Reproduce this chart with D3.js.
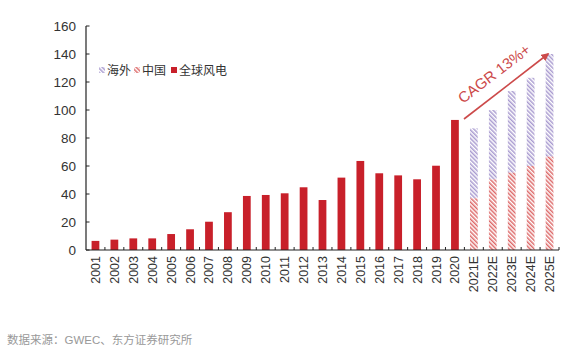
<!DOCTYPE html>
<html>
<head>
<meta charset="utf-8">
<script src="https://cdn.jsdelivr.net/npm/d3@7"></script>
<style>
  body { margin: 0; background: #fff; }
  text { font-family: "Liberation Sans", Arial, "Noto Sans CJK SC", sans-serif; }
</style>
</head>
<body>
<div class="chart"></div>
<script>
var width = 564,
    height = 353;

// data
var years = ['2001', '2002', '2003', '2004', '2005', '2006', '2007', '2008', '2009', '2010',
    '2011', '2012', '2013', '2014', '2015', '2016', '2017', '2018', '2019', '2020',
    '2021E', '2022E', '2023E', '2024E', '2025E'];
var globalWind = [6.5, 7.4, 8.3, 8.3, 11.4, 14.8, 20.2, 27, 38.6, 39.3,
    40.5, 44.8, 35.7, 51.7, 63.6, 54.8, 53.3, 50.5, 60.2, 92.9];
var chinaVal = [36.9, 50.4, 55.2, 60, 66.7];
var totalVal = [86.9, 100, 113.6, 123, 140];
var yTicks = [0, 20, 40, 60, 80, 100, 120, 140, 160];
var legendNames = ['海外', '中国', '全球风电'];

var red = '#c8202a';

var svg = d3.select(".chart").append("svg")
    .attr("width", width)
    .attr("height", height);

var defs = svg.append("defs");
function stripes(id, color) {
    var p = defs.append("pattern")
        .attr("id", id)
        .attr("patternUnits", "userSpaceOnUse")
        .attr("width", 3)
        .attr("height", 3)
        .attr("patternTransform", "rotate(-45)");
    p.append("rect").attr("width", 3).attr("height", 3).attr("fill", "#fff");
    p.append("rect").attr("width", 1.5).attr("height", 3).attr("fill", color);
}
stripes("overseas", "#a99bd0");
stripes("china", "#dd6a6a");

var x = d3.scaleBand()
    .domain(years)
    .range([86, 559]);
var y = d3.scaleLinear()
    .domain([0, 160])
    .range([250, 26]);

var barW = x.bandwidth() * 0.41;
function bx(d) { return x(d) + (x.bandwidth() - barW) / 2; }

// historical bars
svg.selectAll(".hist")
    .data(globalWind)
    .enter()
    .append("rect")
    .attr("x", function (d, i) { return bx(years[i]); })
    .attr("y", function (d) { return y(d); })
    .attr("width", barW)
    .attr("height", function (d) { return y(0) - y(d); })
    .attr("fill", red);

var fc = years.slice(20);
// forecast: overseas part on top
svg.selectAll(".over")
    .data(totalVal)
    .enter()
    .append("rect")
    .attr("x", function (d, i) { return bx(fc[i]); })
    .attr("y", function (d) { return y(d); })
    .attr("width", barW)
    .attr("height", function (d, i) { return y(chinaVal[i]) - y(d); })
    .attr("fill", "url(#overseas)");
svg.selectAll(".cn")
    .data(chinaVal)
    .enter()
    .append("rect")
    .attr("x", function (d, i) { return bx(fc[i]); })
    .attr("y", function (d) { return y(d); })
    .attr("width", barW)
    .attr("height", function (d) { return y(0) - y(d); })
    .attr("fill", "url(#china)");

// y axis
svg.append("line")
    .attr("x1", 86).attr("x2", 86)
    .attr("y1", y(160)).attr("y2", y(0))
    .attr("stroke", "#222").attr("stroke-width", 1.2);
svg.selectAll(".ytick")
    .data(yTicks)
    .enter()
    .append("line")
    .attr("x1", 86).attr("x2", 89.5)
    .attr("y1", function (d) { return y(d); })
    .attr("y2", function (d) { return y(d); })
    .attr("stroke", "#222");
svg.selectAll(".ylab")
    .data(yTicks)
    .enter()
    .append("text")
    .attr("x", 76)
    .attr("y", function (d) { return y(d) + 5; })
    .attr("text-anchor", "end")
    .attr("font-size", 13.5)
    .attr("fill", "#333")
    .text(function (d) { return d; });

// x axis
svg.append("line")
    .attr("x1", 86).attr("x2", 559)
    .attr("y1", y(0)).attr("y2", y(0))
    .attr("stroke", "#222").attr("stroke-width", 1.2);
svg.selectAll(".xtick")
    .data(years)
    .enter()
    .append("line")
    .attr("x1", function (d) { return x(d) + x.bandwidth(); })
    .attr("x2", function (d) { return x(d) + x.bandwidth(); })
    .attr("y1", y(0)).attr("y2", y(0) - 3)
    .attr("stroke", "#222");
svg.selectAll(".xlab")
    .data(years)
    .enter()
    .append("text")
    .attr("transform", function (d) {
        return "translate(" + (x(d) + x.bandwidth() / 2 + 4.5) + ",256) rotate(-90)";
    })
    .attr("text-anchor", "end")
    .attr("font-size", 12.5)
    .attr("fill", "#333")
    .text(function (d) { return d; });

// legend
var lg = svg.append("g").attr("class", "legend");
var lx = [99, 134, 171];
var fills = ["url(#overseas)", "url(#china)", red];
legendNames.forEach(function (n, i) {
    lg.append("rect")
        .attr("x", lx[i]).attr("y", 67)
        .attr("width", 6).attr("height", 6)
        .attr("fill", fills[i]);
    lg.append("text")
        .attr("x", lx[i] + 8).attr("y", 75)
        .attr("font-size", 12)
        .attr("font-family", "Noto Sans CJK SC")
        .attr("fill", "#333")
        .text(n);
});

// CAGR arrow
defs.append("marker")
    .attr("id", "arrow")
    .attr("viewBox", "0 0 10 10")
    .attr("refX", 8).attr("refY", 5)
    .attr("markerWidth", 5).attr("markerHeight", 5)
    .attr("orient", "auto")
    .append("path")
    .attr("d", "M0,0 L10,5 L0,10 z")
    .attr("fill", "#cc4a4a");
svg.append("line")
    .attr("x1", 464).attr("y1", 119)
    .attr("x2", 548).attr("y2", 54)
    .attr("stroke", "#cc4a4a").attr("stroke-width", 1.6)
    .attr("marker-end", "url(#arrow)");
svg.append("text")
    .attr("transform", "translate(463,104) rotate(-37.5)")
    .attr("font-family", "Liberation Serif, serif")
    .attr("font-size", 15)
    .attr("fill", "#cc4a4a")
    .text("CAGR 13%+");

// source
svg.append("text")
    .attr("x", 7).attr("y", 344)
    .attr("font-size", 11.5)
    .attr("font-family", "Noto Sans CJK SC")
    .attr("fill", "#999")
    .text("数据来源：GWEC、东方证券研究所");
</script>
</body>
</html>
